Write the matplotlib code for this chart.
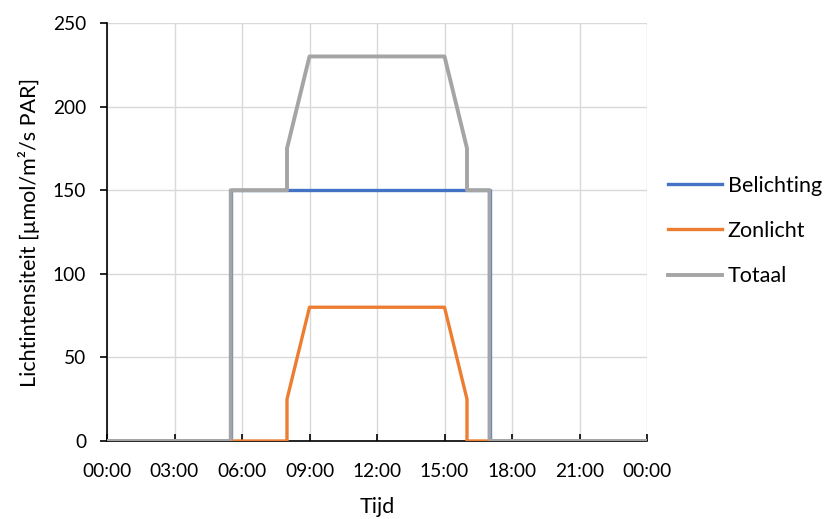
import matplotlib.pyplot as plt

# tijd in uren, lichtintensiteit in µmol/m²/s PAR
belichting_t = [0, 5.5, 5.5, 17, 17, 24]
belichting_v = [0, 0, 150, 150, 0, 0]

zonlicht_t = [0, 8, 8, 9, 15, 16, 16, 24]
zonlicht_v = [0, 0, 25, 80, 80, 25, 0, 0]

totaal_t = [0, 5.5, 5.5, 8, 8, 9, 15, 16, 16, 17, 17, 24]
totaal_v = [0, 0, 150, 150, 175, 230, 230, 175, 150, 150, 0, 0]

tick_hours = [0, 3, 6, 9, 12, 15, 18, 21, 24]
tick_labels = ["00:00", "03:00", "06:00", "09:00", "12:00", "15:00", "18:00", "21:00", "00:00"]

plt.rcParams["font.family"] = ["Lato", "DejaVu Sans"]

fig = plt.figure(figsize=(8.24, 5.19), dpi=100)
ax = fig.add_axes([107 / 824, 78 / 519, 540 / 824, 418 / 519])

ax.plot(belichting_t, belichting_v, color="#4472C4", lw=2.4, label="Belichting", zorder=3)
ax.plot(zonlicht_t, zonlicht_v, color="#ED7D31", lw=2.4, label="Zonlicht", zorder=4)
# totaal iets breder zodat de belichting eronder niet doorschemert
ax.plot(totaal_t, totaal_v, color="#A5A5A5", lw=2.8, label="Totaal", zorder=5)

ax.set_xlim(0, 24)
ax.set_ylim(0, 250)
ax.set_xticks(tick_hours)
ax.set_xticklabels(tick_labels)
ax.set_yticks(range(0, 251, 50))
ax.grid(True, color="#D9D9D9", lw=1.0, zorder=0)
ax.set_axisbelow(True)

for side in ["top", "right"]:
    ax.spines[side].set_visible(False)
for side in ["left", "bottom"]:
    ax.spines[side].set_color("black")
    ax.spines[side].set_linewidth(1.2)

ax.tick_params(axis="x", direction="in", length=5, width=1.2, labelsize=13.8, pad=16)
ax.tick_params(axis="y", direction="out", length=5, width=1.2, labelsize=13.8, pad=10)

ax.set_xlabel("Tijd", fontsize=15.5, labelpad=12)
ax.set_ylabel("Lichtintensiteit [µmol/m²/s PAR]", fontsize=15.5, labelpad=9)

ax.legend(loc="center left", bbox_to_anchor=(668 / 824, (519 - 231) / 519),
          bbox_transform=fig.transFigure, frameon=False, borderpad=0, borderaxespad=0,
          fontsize=15.5, handlelength=2.5, handletextpad=0.28, labelspacing=1.18)

fig.savefig("out.png", dpi=100)
